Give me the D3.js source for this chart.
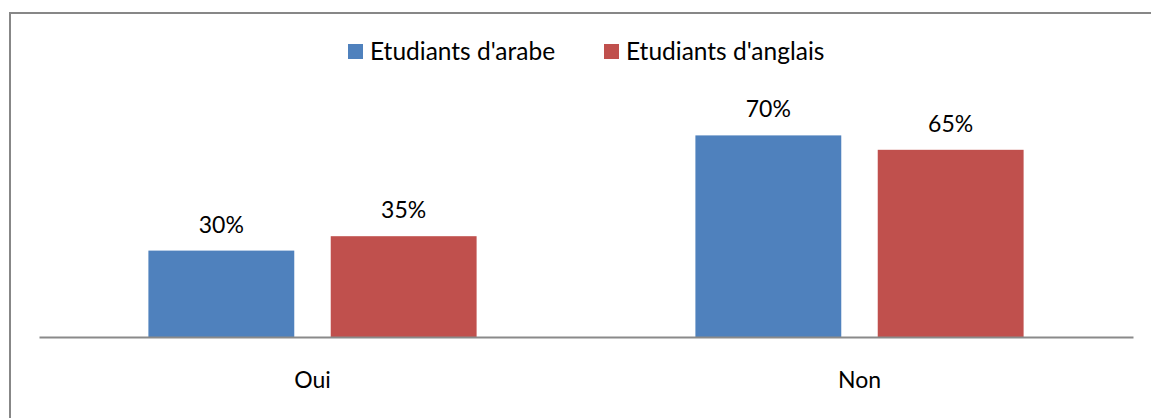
<!DOCTYPE html>
<html>
<head>
<meta charset="utf-8">
<script src="https://cdn.jsdelivr.net/npm/d3@7"></script>
<style>
  body { margin: 0; background: #fff; }
  svg { display: block; font-family: Lato, "Open Sans", sans-serif; }
</style>
</head>
<body>
<svg id="chart" width="1151" height="418"></svg>
<script>
// data
const categories = ["Oui", "Non"];
const series = ["Etudiants d'arabe", "Etudiants d'anglais"];
const arabe = [0.30, 0.70];
const anglais = [0.35, 0.65];
const colors = ["#4f81bd", "#c0504d"];

const values = [arabe, anglais];
const rows = categories.map((c, i) => ({
  cat: c,
  bars: series.map((s, j) => ({ key: s, value: values[j][i], color: colors[j] }))
}));

const svg = d3.select("#chart");
const w = 1151, h = 418;

// outer frame (only top and left edges show in the picture)
svg.append("line").attr("x1", 10).attr("x2", w).attr("y1", 13).attr("y2", 13)
  .attr("stroke", "#878787").attr("stroke-width", 2);
svg.append("line").attr("x1", 10).attr("x2", 10).attr("y1", 12).attr("y2", h)
  .attr("stroke", "#878787").attr("stroke-width", 2);

const x0 = d3.scaleBand().domain(categories).range([39, 1133])
  .paddingInner(0.4).paddingOuter(0.2);
const x1 = d3.scaleBand().domain(series).range([0, x0.bandwidth()]).paddingInner(0.2);
const y = d3.scaleLinear().domain([0, 0.8]).range([337, 106.6]);

const fmt = d3.format(".0%");

const groups = svg.selectAll("g.grp")
  .data(rows)
  .enter().append("g")
  .attr("class", "grp")
  .attr("transform", d => "translate(" + x0(d.cat) + ",0)");

groups.selectAll("rect")
  .data(d => d.bars)
  .enter().append("rect")
  .attr("x", d => x1(d.key))
  .attr("y", d => y(d.value))
  .attr("width", x1.bandwidth())
  .attr("height", d => y(0) - y(d.value))
  .attr("fill", d => d.color);

groups.selectAll("text")
  .data(d => d.bars)
  .enter().append("text")
  .attr("x", d => x1(d.key) + x1.bandwidth() / 2)
  .attr("y", d => y(d.value) - 18)
  .attr("text-anchor", "middle")
  .attr("font-size", 23)
  .attr("fill", "#000")
  .text(d => fmt(d.value));

// x axis
const xAxis = d3.axisBottom(x0).tickSize(0).tickPadding(35);
const ax = svg.append("g")
  .attr("transform", "translate(0," + y(0) + ")")
  .call(xAxis);
ax.select(".domain").attr("stroke", "#8a8a8a").attr("stroke-width", 2);
ax.selectAll("text").attr("font-size", 23).attr("fill", "#000")
  .attr("font-family", "Lato, 'Open Sans', sans-serif");

// legend
const legendX = [348, 604];
const legend = svg.selectAll("g.leg")
  .data(series)
  .enter().append("g")
  .attr("class", "leg")
  .attr("transform", (d, i) => "translate(" + legendX[i] + ",44)");
legend.append("rect").attr("width", 15).attr("height", 15)
  .attr("fill", (d, i) => colors[i]);
legend.append("text").attr("x", 22).attr("y", 16)
  .attr("font-size", 24.5).attr("fill", "#000")
  .text(d => d);
</script>
</body>
</html>
